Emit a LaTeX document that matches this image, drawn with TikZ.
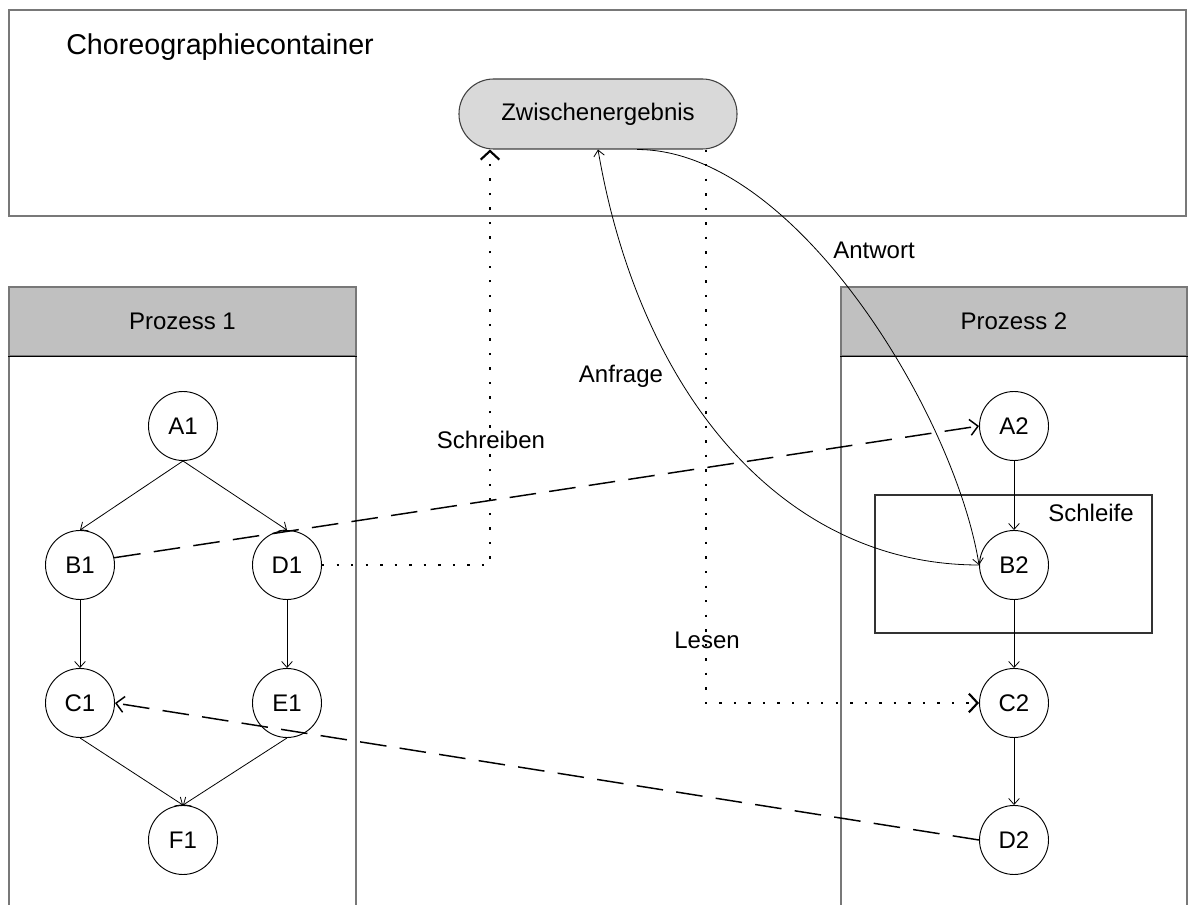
\documentclass[tikz,border=0pt]{standalone}
\usepackage{fontspec}
\setmainfont{Liberation Sans}
\usetikzlibrary{arrows.meta,calc}

\definecolor{framegray}{RGB}{120,120,120}
\definecolor{headgray}{RGB}{192,192,192}
\definecolor{storegray}{RGB}{217,217,217}

% lengths below are given in pixels of the drawing grid (1px = 0.75pt)
\newcommand\pxu[1]{#1*0.75pt}

\tikzset{
  txt/.style={font=\fontsize{18}{20}\selectfont},
  frame/.style={draw=framegray, line width=1.1pt},
  header/.style={draw=framegray, line width=1.1pt, fill=headgray, txt,
    minimum height=\pxu{69}, inner sep=0pt},
  state/.style={circle, draw, line width=0.7pt, minimum size=\pxu{69},
    inner sep=0pt, txt},
  store/.style={draw=black!75, line width=0.8pt, fill=storegray,
    rounded corners=26pt, minimum width=\pxu{278}, minimum height=\pxu{70},
    inner sep=0pt, txt},
  flow/.style={line width=0.6pt, -{Straight Barb[length=4.5pt,width=8pt]}},
  msg/.style={line width=1.1pt, dash pattern=on 20pt off 10pt,
    -{Straight Barb[length=6pt,width=12pt]}},
  data/.style={line width=1.8pt, dash pattern=on 1.8pt off 9.1pt,
    -{Straight Barb[length=6.5pt,width=14pt,line width=1.6pt]}},
  lbl/.style={txt, inner sep=0pt, anchor=base},
}

\begin{document}
\begin{tikzpicture}[x=0.75pt,y=-0.75pt]
\useasboundingbox (0,0) rectangle (1189,905);
\clip (0,0) rectangle (1189,905);
\fill[white] (0,0) rectangle (1189,905);

% choreography container
\draw[frame] (9,10) rectangle (1186,216);
\node[lbl, anchor=base west, font=\fontsize{21.5}{24}\selectfont]
  (ctitle) at (66,55) {Choreographiecontainer};
\node[store] (zw) at (598,114) {Zwischenergebnis};

% process lanes
\draw[frame] (9,287) rectangle (356,930);
\node[header, minimum width=\pxu{347}] (p1) at (182.5,321.5) {Prozess 1};
\draw[line width=0.8pt] (p1.south west) -- (p1.south east);

\draw[frame] (841,287) rectangle (1187,930);
\node[header, minimum width=\pxu{346}] (p2) at (1014,321.5) {Prozess 2};
\draw[line width=0.8pt] (p2.south west) -- (p2.south east);

% loop region
\draw[line width=0.8pt, draw=black!80] (875,495) rectangle (1152,633);
\node[lbl] (loop) at (1091,521) {Schleife};

% process 1 states
\node[state] (A1) at (183,426) {A1};
\node[state] (B1) at (80,565)  {B1};
\node[state] (D1) at (287,565) {D1};
\node[state] (C1) at (80,703)  {C1};
\node[state] (E1) at (287,703) {E1};
\node[state] (F1) at (183,840) {F1};

% process 2 states
\node[state] (A2) at (1014,426) {A2};
\node[state] (B2) at (1014,565) {B2};
\node[state] (C2) at (1014,703) {C2};
\node[state] (D2) at (1014,840) {D2};

% control flow inside the processes
\draw[flow] (A1.south) -- (B1.north);
\draw[flow] (A1.south) -- (D1.north);
\draw[flow] (B1.south) -- (C1.north);
\draw[flow] (D1.south) -- (E1.north);
\draw[flow] (C1.south) -- (F1.north);
\draw[flow] (E1.south) -- (F1.north);
\draw[flow] (A2.south) -- (B2.north);
\draw[flow] (B2.south) -- (C2.north);
\draw[flow] (C2.south) -- (D2.north);

% messages between the processes
\draw[msg] (B1.12) -- (A2.west);
\draw[msg] (D2.west) -- (C1.east);

% writing and reading the intermediate result
\coordinate (zwW) at ($(zw.south)+(-108,0)$);
\coordinate (zwR) at ($(zw.south)+(108,0)$);
\coordinate (zwA) at ($(zw.south)+(39,0)$);
\draw[data] (D1.east) -| (zwW);
\draw[data] (zwR) |- (C2.west);
\node[lbl] (write) at (491,449) {Schreiben};
\node[lbl] (read) at (707,648) {Lesen};

% request and answer
\draw[flow] (B2.west) .. controls (780,565) and (639,390) .. (zw.south);
\draw[flow] (zwA) .. controls (795,149) and (955,415) .. (B2.west);
\node[lbl] (req) at (621,383) {Anfrage};
\node[lbl] (ans) at (874,259) {Antwort};
\end{tikzpicture}
\end{document}
